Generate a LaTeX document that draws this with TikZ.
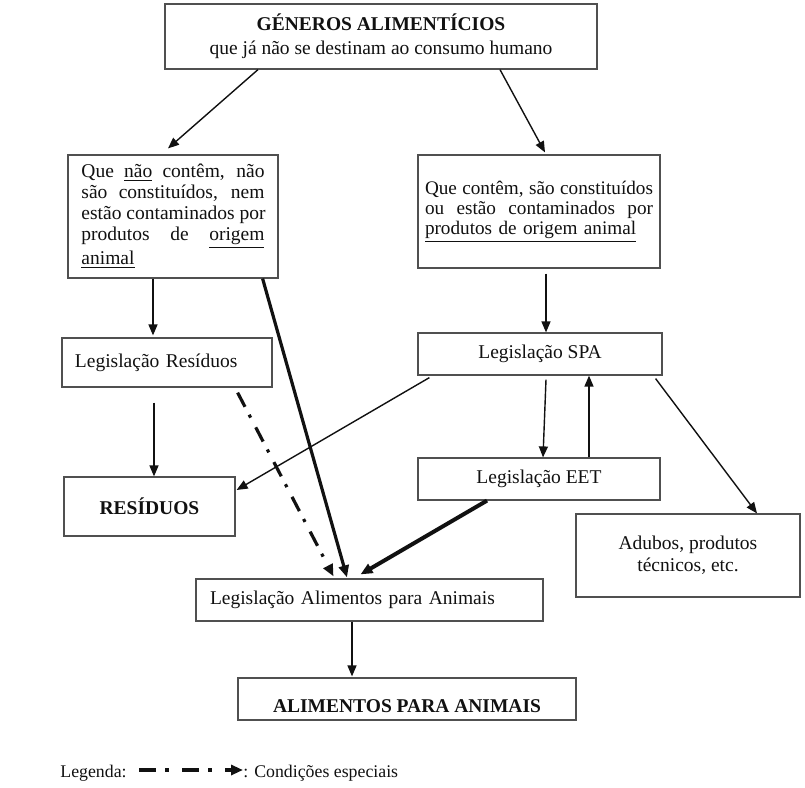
\documentclass[tikz,border=0pt]{standalone}
\usepackage{fontspec}
\setmainfont{Liberation Serif}
\usetikzlibrary{arrows.meta,calc}
\definecolor{Pen}{HTML}{111111}
\definecolor{Edge}{HTML}{505050}
% justified line of a given width
\newcommand{\jl}[2][91.5pt]{\leavevmode\hbox to #1{\spaceskip=0.25em plus 1fil\xspaceskip=\spaceskip #2}}
\tikzset{
  box/.style={
    draw=Edge, line width=0.6pt, fill=white, text=Pen,
    font=\fontsize{9.75}{10.5}\selectfont
  },
  flow/.style={-{Triangle[length=5.5pt,width=4.5pt]}, line width=0.7pt, draw=Pen},
  heavyflow/.style={-{Triangle[length=6pt,width=5pt]}, line width=1.6pt, draw=Pen},
  specialflow/.style={
    -{Triangle[length=6pt,width=5pt]}, line width=1.6pt, draw=Pen,
    dash pattern=on 8pt off 4.5pt on 1.6pt off 5.5pt
  },
  legendtext/.style={anchor=base west, inner sep=0pt, text=Pen, font=\fontsize{8.9}{10}\selectfont}
}

\begin{document}
\begin{tikzpicture}[x=0.5pt,y=-0.5pt]
  \useasboundingbox (0,0) rectangle (805,788);
  % boxes
  \node[box,minimum width=216pt,minimum height=32.5pt,align=center] (top) at (381,36.5)
    {\textbf{GÉNEROS ALIMENTÍCIOS}\\[1.5pt]que já não se destinam ao consumo humano};
  \node[box,minimum height=61.5pt,text width=91.5pt,inner xsep=6.75pt,align=left] (nao) at (173,216.5)
    {\jl{Que \underline{não} contêm, não}\\
     \jl{são constituídos, nem}\\
     \jl{estão contaminados por}\\
     \jl{produtos de \underline{origem}}\\
     \underline{animal}};
  \node[box,minimum height=56.5pt,text width=114pt,inner xsep=3.5pt,align=left,
    font=\fontsize{9.6}{10}\selectfont] (sim) at (539,211.5)
    {\jl[114pt]{Que contêm, são constituídos}\\
     \jl[114pt]{ou estão contaminados por}\\
     \underline{produtos de origem animal}};
  \node[box,minimum height=24.5pt,text width=92pt,inner xsep=6.5pt,align=left] (legres) at (167,362.5)
    {Legislação Resíduos};
  \node[box,minimum width=122pt,minimum height=21pt] (spa) at (540,354) {Legislação SPA};
  \node[box,minimum width=85.5pt,minimum height=29.5pt] (res) at (149.5,506.5) {\textbf{RESÍDUOS}};
  \node[box,minimum width=121pt,minimum height=21pt] (eet) at (539,479) {Legislação EET};
  \node[box,minimum width=112pt,minimum height=41.5pt,align=center,
    font=\fontsize{9.75}{11}\selectfont] (adubos) at (688,555.5)
    {Adubos, produtos\\técnicos, etc.};
  \node[box,minimum height=21pt,text width=159.5pt,inner xsep=7pt,align=left] (legalim) at (369.5,600)
    {Legislação Alimentos para Animais};
  \node[box,minimum width=169pt,minimum height=21pt,text height=13pt,text depth=0pt] (alim) at (407,699)
    {\textbf{ALIMENTOS PARA ANIMAIS}};

  % connectors
  \draw[flow] ($(top.south)+(-123,0)$) -- ($(nao.north)+(-5,-6)$);
  \draw[flow] ($(top.south)+(119,0)$) -- ($(sim.north)+(6,-2)$);
  \draw[flow] ($(nao.south)+(-20,0)$) -- ($(legres.north)+(-14,-2)$);
  \draw[flow] ($(legres.south)+(-13,15)$) -- ($(res.north)+(4.5,0)$);
  \draw[flow] ($(sim.south)+(7,5)$) -- ($(spa.north)+(6,0)$);
  \draw[flow] ($(spa.south)+(6,4)$) -- ($(eet.north)+(4,0)$);
  \draw[flow] ($(eet.north)+(50,0)$) -- ($(spa.south)+(49,0)$);
  \draw[flow] ($(spa.south west)+(12,2)$) -- ($(res.east)+(1,-16.5)$);
  \draw[flow] ($(spa.south east)+(-7,3)$) -- ($(adubos.north)+(69,0)$);
  \draw[heavyflow] ($(nao.south east)+(-16,0)$) -- ($(legalim.north)+(-22.5,-1)$);
  \draw[specialflow] ($(legres.south east)+(-35,5)$) -- ($(legalim.north)+(-36,-2)$);
  \draw[heavyflow,line width=2pt] ($(eet.south)+(-52,0)$) -- ($(legalim.north)+(-9,-4)$);
  \draw[flow] ($(legalim.south)+(-17.5,0)$) -- ($(alim.north)+(-55,-1)$);

  % legend
  \node[legendtext] (lgd) at (60,777) {Legenda:};
  \node[legendtext] (lgdnote) at (243,777) {: Condições especiais};
  \draw[specialflow,line width=2.2pt,dash pattern=on 8.5pt off 4.5pt on 2pt off 6.5pt]
    ($(lgd.base east)+(12,-7)$) -- ($(lgdnote.base west)+(0,-7)$);
\end{tikzpicture}
\end{document}
